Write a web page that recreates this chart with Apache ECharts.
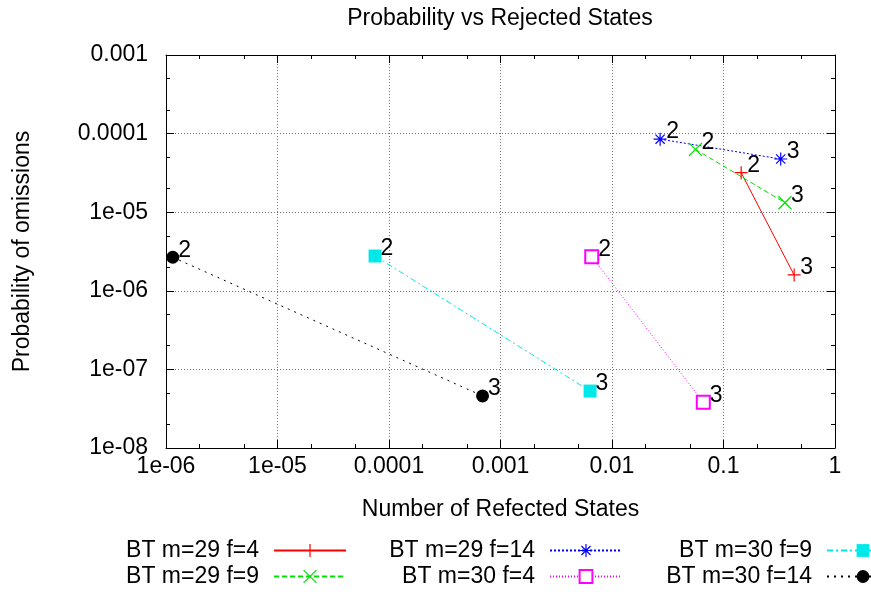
<!DOCTYPE html>
<html>
<head>
<meta charset="utf-8">
<script src="https://cdn.jsdelivr.net/npm/echarts@6/dist/echarts.min.js"></script>
<style>html,body{margin:0;padding:0;background:#fff}#c{width:871px;height:592px}</style>
</head>
<body>
<div id="c"></div>
<script>
// ---- data ----
const seriesNames = ['BT m=29 f=4', 'BT m=29 f=9', 'BT m=29 f=14', 'BT m=30 f=4', 'BT m=30 f=9', 'BT m=30 f=14'];
const pointLabels = ['2', '3'];
const x_m29_f4 = [0.144, 0.43];
const y_m29_f4 = [3.18e-5, 1.59e-6];
const x_m29_f9 = [0.056, 0.356];
const y_m29_f9 = [6.3e-5, 1.32e-5];
const x_m29_f14 = [0.027, 0.326];
const y_m29_f14 = [8.5e-5, 4.75e-5];
const x_m30_f4 = [0.00658, 0.0659];
const y_m30_f4 = [2.72e-6, 3.81e-8];
const x_m30_f9 = [7.5e-5, 0.00636];
const y_m30_f9 = [2.77e-6, 5.3e-8];
const x_m30_f14 = [1.15e-6, 6.9e-4];
const y_m30_f14 = [2.67e-6, 4.6e-8];
const xTickLabels = ['1e-06', '1e-05', '0.0001', '0.001', '0.01', '0.1', '1'];
const yTickLabels = ['1e-08', '1e-07', '1e-06', '1e-05', '0.0001', '0.001'];
const xMinorTicks = [2e-6, 5e-6, 2e-5, 5e-5, 2e-4, 5e-4, 2e-3, 5e-3, 2e-2, 5e-2, 0.2, 0.5];
const yMinorTicks = [2e-8, 5e-8, 2e-7, 5e-7, 2e-6, 5e-6, 2e-5, 5e-5, 2e-4, 5e-4];

// ---- styling ----
const FONT = 'Liberation Sans';
const FS = 23;
const colors = ['#ff0000', '#00e000', '#0000ff', '#ff00ff', '#00e8e8', '#000000'];
const lineTypes = ['solid', [5, 3], [2, 2], [1, 2], [6, 3, 2, 3], [2, 5]];
const symbols = [
  'path://M0,6L12,6M6,0L6,12',
  'path://M0,0L12,12M12,0L0,12',
  'path://M0,6L12,6M6,0L6,12M1.76,1.76L10.24,10.24M10.24,1.76L1.76,10.24',
  'emptyRect', 'rect', 'circle'
];
const strokeSym = [true, true, true, false, false, false];
const xs = [x_m29_f4, x_m29_f9, x_m29_f14, x_m30_f4, x_m30_f9, x_m30_f14];
const ys = [y_m29_f4, y_m29_f9, y_m29_f14, y_m30_f4, y_m30_f9, y_m30_f14];

const series = seriesNames.map((name, i) => ({
  name: name,
  type: 'line',
  xAxisIndex: 0, yAxisIndex: 0,
  data: xs[i].map((x, j) => [x, ys[i][j], pointLabels[j]]),
  symbol: symbols[i],
  symbolSize: 13,
  showAllSymbol: true,
  clip: false,
  lineStyle: { color: colors[i], width: 1, type: lineTypes[i] },
  itemStyle: strokeSym[i]
    ? { color: colors[i], borderColor: colors[i], borderWidth: 1.2 }
    : { color: colors[i], borderColor: colors[i], borderWidth: i === 3 ? 1.2 : 0 },
  label: {
    show: true, position: 'right', distance: 0, offset: [-1, -7],
    formatter: p => p.data[2],
    fontFamily: FONT, fontSize: FS, color: '#000'
  },
  emphasis: { disabled: true },
  animation: false
}));

// legend layout: [seriesIndex, rightEdge of line sample, top]
const legendPos = [[0, 347, 539], [1, 347, 565], [2, 623, 539], [3, 623, 565], [4, 900, 539], [5, 900, 565]];
const legends = legendPos.map(([i, r, t]) => ({
  data: [{ name: seriesNames[i], itemStyle: { borderWidth: strokeSym[i] || i === 3 ? 1.2 : 0 } }],
  right: 871 - r, top: t,
  align: 'right',
  itemWidth: 72, itemHeight: 16, padding: 0,
  selectedMode: false,
  textStyle: { fontFamily: FONT, fontSize: FS, color: '#000', padding: [0, 10, 0, 0] }
}));

const axisCommonX = {
  type: 'log', logBase: 10, min: 1e-6, max: 1, interval: 1,
  axisLine: { show: true, lineStyle: { color: '#000', width: 1 } },
  axisTick: { show: true, inside: true, length: 8, lineStyle: { color: '#000' } },
  minorTick: { show: false },
  splitLine: { show: false }
};
const axisCommonY = {
  type: 'log', logBase: 10, min: 1e-8, max: 1e-3, interval: 1,
  axisLine: { show: true, lineStyle: { color: '#000', width: 1 } },
  axisTick: { show: true, inside: true, length: 8, lineStyle: { color: '#000' } },
  minorTick: { show: false },
  splitLine: { show: false }
};
const gridStyle = { show: true, lineStyle: { color: '#777', width: 1, type: [1, 2] } };

const option = {
  backgroundColor: '#fff',
  animation: false,
  title: {
    text: 'Probability vs Rejected States',
    left: 500, top: 7, textAlign: 'center', padding: 0,
    textStyle: { fontFamily: FONT, fontSize: FS, fontWeight: 'normal', color: '#000' }
  },
  legend: legends,
  grid: { left: 166, right: 36, top: 55, bottom: 144, containLabel: false },
  xAxis: [
    Object.assign({}, axisCommonX, {
      position: 'bottom',
      name: 'Number of Refected States', nameLocation: 'middle', nameGap: 50,
      nameTextStyle: { fontFamily: FONT, fontSize: FS, color: '#000' },
      axisLabel: { show: true, margin: 7, fontFamily: FONT, fontSize: FS, color: '#000',
        showMinLabel: true, showMaxLabel: true, interval: 0,
        formatter: (v, idx) => xTickLabels[idx] },
      splitLine: gridStyle
    }),
    Object.assign({}, axisCommonX, { position: 'top', axisLabel: { show: false } }),
    Object.assign({}, axisCommonX, { position: 'bottom', axisLine: { show: false }, axisLabel: { show: false },
      axisTick: { show: true, inside: true, length: 4, customValues: xMinorTicks, lineStyle: { color: '#000' } } }),
    Object.assign({}, axisCommonX, { position: 'top', axisLine: { show: false }, axisLabel: { show: false },
      axisTick: { show: true, inside: true, length: 4, customValues: xMinorTicks, lineStyle: { color: '#000' } } })
  ],
  yAxis: [
    Object.assign({}, axisCommonY, {
      position: 'left',
      name: 'Probability of omissions', nameLocation: 'middle', nameGap: 132, nameRotate: 90,
      nameTextStyle: { fontFamily: FONT, fontSize: FS, color: '#000' },
      axisLabel: { show: true, margin: 18, fontFamily: FONT, fontSize: FS, color: '#000',
        showMinLabel: true, showMaxLabel: true, interval: 0,
        formatter: (v, idx) => yTickLabels[idx] },
      splitLine: gridStyle
    }),
    Object.assign({}, axisCommonY, { position: 'right', axisLabel: { show: false } }),
    Object.assign({}, axisCommonY, { position: 'left', axisLine: { show: false }, axisLabel: { show: false },
      axisTick: { show: true, inside: true, length: 4, customValues: yMinorTicks, lineStyle: { color: '#000' } } }),
    Object.assign({}, axisCommonY, { position: 'right', axisLine: { show: false }, axisLabel: { show: false },
      axisTick: { show: true, inside: true, length: 4, customValues: yMinorTicks, lineStyle: { color: '#000' } } })
  ],
  series: series
};

const chart = echarts.init(document.getElementById('c'), null, { renderer: 'canvas' });
chart.setOption(option);
</script>
</body>
</html>
